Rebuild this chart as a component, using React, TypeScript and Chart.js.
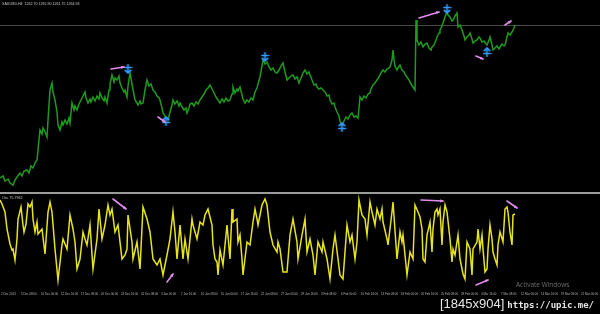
import React, { useEffect, useRef } from "react";
import { Chart, registerables } from "chart.js";
Chart.register(...registerables);

// ---------- price panel (H4 closes) ----------
const priceBars = [
  0, 3, 5, 8, 10, 13, 15, 17, 20, 22, 24, 27, 29, 31, 33, 35, 37, 38, 40, 42, 43, 45, 47, 48, 50, 52, 53, 55, 57, 58,
  60, 62, 63, 65, 67, 69, 70, 72, 74, 75, 77, 79, 81, 83, 85, 86, 88, 90, 91, 93, 95, 97, 99, 100, 102, 104, 105, 107, 109, 110,
  112, 114, 115, 117, 119, 120, 122, 124, 125, 127, 128, 130, 132, 134, 135, 137, 138, 140, 141, 143, 145, 147, 149, 151, 153, 155, 157, 159, 160, 162,
  163, 165, 167, 168, 170, 172, 173, 175, 177, 179, 180, 182, 184, 186, 187, 189, 190, 192, 194, 196, 198, 200, 202, 204, 206, 208, 210, 212, 214, 216,
  218, 220, 222, 224, 226, 228, 230, 232, 233, 235, 237, 238, 240, 242, 243, 245, 247, 249, 251, 253, 255, 257, 258, 260, 262, 263, 265, 267, 269, 271,
  273, 275, 277, 279, 281, 283, 285, 287, 289, 291, 293, 295, 297, 299, 301, 303, 305, 307, 309, 310, 312, 314, 316, 317, 319, 321, 323, 325, 327, 329,
  330, 332, 334, 335, 337, 339, 340, 342, 344, 346, 348, 350, 352, 354, 356, 358, 359, 360, 362, 364, 366, 368, 370, 371, 373, 375, 377, 379, 381, 383,
  385, 387, 389, 390, 392, 393, 394, 395, 397, 398, 400, 402, 404, 406, 407, 409, 411, 413, 415, 416, 417, 419, 421, 423, 425, 427, 429, 431, 432, 434,
  436, 437, 439, 440, 442, 443, 445, 447, 448, 450, 452, 453, 455, 457, 458, 460, 462, 463, 464, 465, 467, 469, 470, 472, 473, 475, 477, 479, 480, 482,
  484, 486, 487, 489, 490, 492, 493, 495, 497, 499, 500, 502, 504, 505, 507, 508, 510, 512, 514, 515,
];
const priceClose = [
  1112, 1114, 1109, 1111, 1107, 1105, 1110, 1113, 1117, 1114, 1119, 1120, 1117, 1124, 1122, 1127, 1130, 1140, 1160, 1156, 1162, 1158, 1153, 1170, 1200, 1207, 1198, 1190, 1178, 1165,
  1160, 1168, 1165, 1170, 1166, 1172, 1167, 1187, 1180, 1184, 1180, 1186, 1190, 1194, 1198, 1192, 1187, 1191, 1188, 1193, 1189, 1194, 1191, 1197, 1192, 1189, 1193, 1187, 1200, 1206,
  1215, 1208, 1212, 1210, 1214, 1207, 1202, 1198, 1200, 1193, 1204, 1217, 1206, 1195, 1190, 1187, 1185, 1189, 1186, 1187, 1200, 1210, 1204, 1206, 1200, 1198, 1194, 1192, 1190, 1182,
  1177, 1174, 1172, 1170, 1178, 1185, 1190, 1186, 1189, 1184, 1187, 1183, 1180, 1182, 1177, 1182, 1186, 1187, 1184, 1188, 1186, 1190, 1193, 1196, 1200, 1202, 1205, 1201, 1197, 1193,
  1190, 1187, 1191, 1188, 1192, 1189, 1190, 1196, 1203, 1197, 1201, 1199, 1203, 1195, 1191, 1187, 1190, 1188, 1192, 1190, 1198, 1202, 1206, 1213, 1224, 1230, 1226, 1228, 1223, 1220,
  1222, 1218, 1217, 1220, 1224, 1227, 1218, 1210, 1212, 1214, 1215, 1211, 1213, 1207, 1212, 1217, 1220, 1216, 1218, 1215, 1210, 1205, 1206, 1203, 1201, 1202, 1200, 1198, 1194, 1195,
  1190, 1186, 1187, 1183, 1178, 1174, 1169, 1165, 1169, 1173, 1171, 1175, 1177, 1173, 1174, 1172, 1182, 1193, 1190, 1194, 1192, 1196, 1197, 1201, 1205, 1207, 1210, 1213, 1217, 1220,
  1218, 1221, 1222, 1223, 1230, 1240, 1230, 1224, 1220, 1222, 1225, 1220, 1218, 1214, 1213, 1210, 1206, 1203, 1200, 1270, 1250, 1245, 1248, 1243, 1246, 1247, 1242, 1240, 1243, 1245,
  1250, 1253, 1257, 1260, 1264, 1267, 1273, 1278, 1275, 1273, 1269, 1270, 1274, 1277, 1263, 1265, 1260, 1260, 1254, 1250, 1253, 1255, 1257, 1251, 1247, 1249, 1250, 1253, 1252, 1248,
  1249, 1246, 1245, 1250, 1253, 1245, 1240, 1242, 1244, 1241, 1243, 1246, 1244, 1245, 1253, 1257, 1255, 1258, 1262, 1265,
];
const currentPrice = 1264.5;
const priceMin = 1100;
const priceMax = 1290;

const downArrowBars = [128, 265, 447];
const downArrowPrices = [1221, 1233, 1281];
const upArrowBars = [166, 342, 487];
const upArrowPrices = [1169, 1163, 1238];

const pricePinkFromBars = [111, 158, 419, 476, 505];
const pricePinkFromValues = [1221, 1173, 1272, 1234, 1265];
const pricePinkToBars = [124, 165, 439, 483, 511];
const pricePinkToValues = [1223, 1168, 1278, 1231, 1269];

// ---------- oscillator panel ----------
const oscBars = [
  0, 2, 5, 7, 10, 12, 13, 15, 17, 18, 21, 23, 24, 26, 28, 30, 32, 33, 35, 37, 38, 42, 45, 48, 50, 52, 55, 58, 62, 63,
  67, 70, 73, 75, 77, 80, 83, 85, 87, 90, 93, 97, 99, 102, 105, 108, 110, 112, 115, 118, 122, 125, 127, 128, 132, 133, 137, 140, 143, 147,
  150, 153, 157, 160, 163, 167, 170, 173, 175, 177, 180, 183, 185, 188, 192, 193, 197, 200, 203, 205, 208, 212, 213, 215, 217, 218, 220, 223, 227, 230,
  232, 233, 237, 238, 240, 242, 243, 247, 250, 253, 255, 257, 258, 262, 265, 267, 270, 273, 277, 278, 280, 283, 287, 290, 293, 297, 298, 302, 305, 307,
  310, 313, 315, 318, 322, 323, 327, 330, 333, 335, 338, 340, 343, 347, 350, 352, 355, 357, 359, 362, 365, 367, 370, 372, 375, 377, 380, 382, 383, 387,
  388, 392, 393, 397, 400, 402, 403, 407, 410, 413, 415, 418, 420, 422, 423, 425, 427, 430, 432, 433, 435, 437, 438, 440, 442, 443, 445, 447, 450, 452,
  453, 455, 458, 460, 463, 465, 467, 470, 472, 473, 477, 478, 480, 482, 483, 485, 487, 488, 490, 492, 493, 495, 497, 498, 500, 503, 505, 507, 508, 510,
  512, 513, 515,
];
const oscValues = [
  90, 86, 78, 61, 46, 40, 41, 30, 51, 71, 83, 65, 58, 66, 86, 83, 88, 71, 58, 68, 56, 61, 36, 78, 88, 78, 41, 10, 45, 51,
  41, 75, 61, 48, 21, 31, 58, 51, 45, 65, 21, 51, 81, 51, 65, 85, 75, 81, 58, 65, 31, 35, 41, 75, 48, 31, 48, 21, 83, 71,
  58, 31, 25, 31, 15, 35, 51, 78, 58, 31, 65, 31, 51, 31, 71, 65, 51, 68, 65, 75, 81, 65, 45, 31, 28, 15, 40, 25, 65, 31,
  81, 68, 71, 48, 55, 31, 15, 48, 45, 68, 81, 71, 65, 85, 91, 85, 58, 45, 38, 48, 41, 18, 18, 55, 71, 48, 31, 55, 71, 38,
  51, 35, 15, 48, 38, 48, 31, 11, 41, 55, 31, 15, 11, 65, 48, 55, 31, 48, 90, 75, 71, 55, 88, 78, 65, 81, 71, 81, 68, 51,
  45, 78, 88, 31, 58, 48, 55, 15, 38, 31, 85, 78, 73, 61, 31, 28, 55, 68, 38, 61, 78, 81, 75, 81, 45, 68, 85, 78, 51, 28,
  41, 35, 55, 31, 16, 11, 48, 41, 15, 41, 48, 61, 41, 55, 41, 18, 21, 41, 65, 51, 38, 31, 25, 45, 58, 48, 81, 83, 78, 58,
  45, 75, 76,
];
const oscMin = 0;
const oscMax = 96;

const oscPinkFromBars = [113, 167, 421, 476, 507];
const oscPinkFromValues = [91, 8, 90, 5, 89];
const oscPinkToBars = [126, 173, 443, 488, 517];
const oscPinkToValues = [81, 16, 89, 10, 82];

// ---------- time axis ----------
const timeTickBars = [
  1, 21, 41, 61, 81, 101, 121, 141, 161, 181, 201, 221, 241, 261, 281,
  301, 321, 341, 361, 381, 401, 421, 441, 461, 481, 501, 521, 541, 561, 581,
];
const timeTickLabels = [
  "2 Dec 2013", "5 Dec 08:00", "10 Dec 00:00", "12 Dec 16:00", "17 Dec 08:00", "20 Dec 00:00",
  "24 Dec 16:00", "31 Dec 08:00", "3 Jan 00:00", "7 Jan 16:00", "10 Jan 08:00", "15 Jan 00:00",
  "17 Jan 16:00", "22 Jan 08:00", "27 Jan 00:00", "29 Jan 16:00", "3 Feb 08:00", "6 Feb 00:00",
  "10 Feb 16:00", "13 Feb 08:00", "18 Feb 00:00", "20 Feb 16:00", "25 Feb 08:00", "28 Feb 00:00",
  "4 Mar 16:00", "7 Mar 08:00", "12 Mar 00:00", "14 Mar 16:00", "19 Mar 08:00", "21 Mar 00:00",
];

const priceHeader = "XAUUSD,H4  1262.70 1265.90 1261.75 1264.93";
const oscHeader = "Osc 75.7962";

const BLUE = "#2f9bff";
const PINK = "#e08cec";

function zip(xs: number[], ys: number[]) {
  return xs.map((x, i) => ({ x, y: ys[i] }));
}

function makeArrowImage(dir: "up" | "down") {
  const c = document.createElement("canvas");
  c.width = 9;
  c.height = 10;
  const g = c.getContext("2d")!;
  g.strokeStyle = BLUE;
  g.lineWidth = 1.7;
  g.lineCap = "round";
  g.beginPath();
  if (dir === "down") {
    g.moveTo(4.5, 0.8); g.lineTo(4.5, 9);
    g.moveTo(1.2, 3.5); g.lineTo(7.8, 3.5);
    g.moveTo(1.8, 6.3); g.lineTo(4.5, 9); g.lineTo(7.2, 6.3);
  } else {
    g.moveTo(4.5, 9.2); g.lineTo(4.5, 1);
    g.moveTo(1.2, 6.5); g.lineTo(7.8, 6.5);
    g.moveTo(1.8, 3.7); g.lineTo(4.5, 1); g.lineTo(7.2, 3.7);
  }
  g.stroke();
  return c;
}

function drawPinkArrows(chart: any, fb: number[], fv: number[], tb: number[], tv: number[]) {
  const { ctx, scales } = chart;
  ctx.save();
  ctx.strokeStyle = PINK;
  ctx.fillStyle = PINK;
  ctx.lineWidth = 1.6;
  ctx.lineCap = "round";
  for (let i = 0; i < fb.length; i++) {
    const x1 = scales.x.getPixelForValue(fb[i]);
    const y1 = scales.y.getPixelForValue(fv[i]);
    const x2 = scales.x.getPixelForValue(tb[i]);
    const y2 = scales.y.getPixelForValue(tv[i]);
    ctx.beginPath();
    ctx.moveTo(x1, y1);
    ctx.lineTo(x2, y2);
    ctx.stroke();
    const a = Math.atan2(y2 - y1, x2 - x1);
    const h = 3.2;
    ctx.beginPath();
    ctx.moveTo(x2 + Math.cos(a) * 1, y2 + Math.sin(a) * 1);
    ctx.lineTo(x2 - h * Math.cos(a - 0.5), y2 - h * Math.sin(a - 0.5));
    ctx.lineTo(x2 - h * Math.cos(a + 0.5), y2 - h * Math.sin(a + 0.5));
    ctx.closePath();
    ctx.fill();
  }
  ctx.restore();
}

export default function App() {
  const topRef = useRef<HTMLCanvasElement | null>(null);
  const botRef = useRef<HTMLCanvasElement | null>(null);

  useEffect(() => {
    document.body.style.margin = "0";
    document.body.style.background = "#000";
    const downImg = makeArrowImage("down");
    const upImg = makeArrowImage("up");

    const topPlugin = {
      id: "topDecor",
      afterDatasetsDraw(chart: any) {
        drawPinkArrows(chart, pricePinkFromBars, pricePinkFromValues, pricePinkToBars, pricePinkToValues);
        const ctx = chart.ctx;
        ctx.save();
        ctx.fillStyle = "#c8c8c8";
        ctx.font = "3.6px 'Liberation Sans'";
        ctx.textBaseline = "top";
        ctx.fillText(priceHeader, 2, 2);
        ctx.restore();
      },
    };

    const top = new Chart(topRef.current!, {
      type: "line",
      data: {
        datasets: [
          {
            data: zip(priceBars, priceClose),
            borderColor: "#1f9a1f",
            borderWidth: 1.5,
            pointRadius: 0,
            tension: 0,
            order: 2,
          },
          {
            data: [{ x: 0, y: currentPrice }, { x: 600, y: currentPrice }],
            borderColor: "#4a4a4a",
            borderWidth: 1,
            pointRadius: 0,
            order: 3,
          },
          {
            data: zip(downArrowBars, downArrowPrices),
            showLine: false,
            pointStyle: downImg as any,
            pointRadius: 5,
            order: 1,
          },
          {
            data: zip(upArrowBars, upArrowPrices),
            showLine: false,
            pointStyle: upImg as any,
            pointRadius: 5,
            order: 1,
          },
        ],
      },
      options: {
        animation: false,
        responsive: false,
        maintainAspectRatio: false,
        events: [],
        layout: { padding: 0, autoPadding: false },
        plugins: { legend: { display: false }, tooltip: { enabled: false }, title: { display: false } },
        scales: {
          x: { type: "linear", min: 0, max: 600, display: false },
          y: { type: "linear", min: priceMin, max: priceMax, display: false },
        },
      },
      plugins: [topPlugin],
    });

    const botPlugin = {
      id: "botDecor",
      afterDatasetsDraw(chart: any) {
        drawPinkArrows(chart, oscPinkFromBars, oscPinkFromValues, oscPinkToBars, oscPinkToValues);
        const ctx = chart.ctx;
        ctx.save();
        ctx.fillStyle = "#c8c8c8";
        ctx.font = "3.6px 'Liberation Sans'";
        ctx.textBaseline = "top";
        ctx.fillText(oscHeader, 2, 2);
        ctx.fillStyle = "#b4b4b4";
        ctx.font = "2.9px 'Liberation Sans'";
        const yLab = chart.chartArea.bottom + 3;
        for (let i = 0; i < timeTickBars.length; i++) {
          const x = chart.scales.x.getPixelForValue(timeTickBars[i]);
          ctx.fillText(timeTickLabels[i], x, yLab);
        }
        ctx.restore();
      },
    };

    const bot = new Chart(botRef.current!, {
      type: "line",
      data: {
        datasets: [
          {
            data: zip(oscBars, oscValues),
            borderColor: "#e8e41c",
            borderWidth: 1.5,
            pointRadius: 0,
            tension: 0,
          },
        ],
      },
      options: {
        animation: false,
        responsive: false,
        maintainAspectRatio: false,
        events: [],
        layout: { padding: { top: 0, left: 0, right: 0, bottom: 10 }, autoPadding: false },
        plugins: { legend: { display: false }, tooltip: { enabled: false }, title: { display: false } },
        scales: {
          x: { type: "linear", min: 0, max: 600, display: false },
          y: { type: "linear", min: oscMin, max: oscMax, display: false },
        },
      },
      plugins: [botPlugin],
    });

    return () => {
      top.destroy();
      bot.destroy();
    };
  }, []);

  return (
    <div
      style={{
        position: "fixed",
        left: 0,
        top: 0,
        width: 600,
        height: 314,
        background: "#000",
        overflow: "hidden",
      }}
    >
      <canvas
        ref={topRef}
        width={600}
        height={190}
        style={{ position: "absolute", left: 0, top: 0, width: 600, height: 190 }}
      />
      <div style={{ position: "absolute", left: 0, top: 192, width: 600, height: 2, background: "#9c9c9c" }} />
      <canvas
        ref={botRef}
        width={600}
        height={106}
        style={{ position: "absolute", left: 0, top: 194, width: 600, height: 106 }}
      />
      <div
        style={{
          position: "absolute",
          left: 516,
          top: 280,
          fontFamily: "'Open Sans', sans-serif",
          fontSize: 6.5,
          color: "#6e6e6e",
          whiteSpace: "nowrap",
        }}
      >
        Activate Windows
      </div>
      <div
        style={{
          position: "absolute",
          left: 440,
          top: 295,
          color: "#e6e6e6",
          whiteSpace: "nowrap",
          lineHeight: "16px",
        }}
      >
        <span style={{ fontFamily: "'Liberation Sans', sans-serif", fontSize: 13 }}>[1845x904]</span>
        <span style={{ fontFamily: "'DejaVu Sans Mono', monospace", fontSize: 9, fontWeight: "bold", marginLeft: 3 }}>
          https://upic.me/
        </span>
      </div>
    </div>
  );
}
